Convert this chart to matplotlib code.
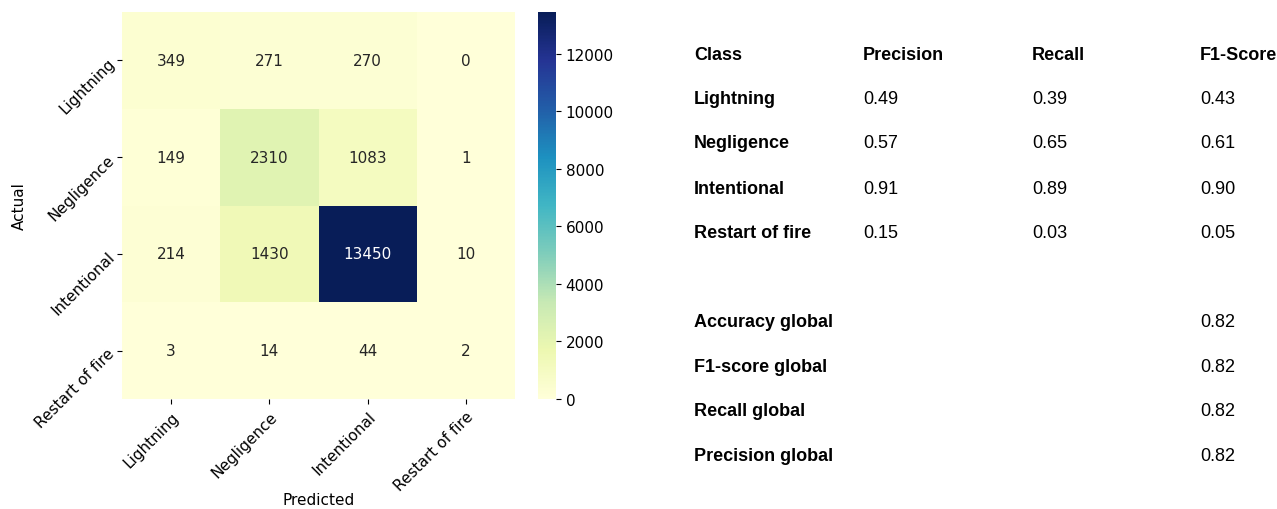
import matplotlib
matplotlib.use("Agg")
import matplotlib.pyplot as plt
import numpy as np
import seaborn as sns

classes = ["Lightning", "Negligence", "Intentional", "Restart of fire"]
conf = [
    [349, 271, 270, 0],
    [149, 2310, 1083, 1],
    [214, 1430, 13450, 10],
    [3, 14, 44, 2],
]
precision = ["0.49", "0.57", "0.91", "0.15"]
recall = ["0.39", "0.65", "0.89", "0.03"]
f1 = ["0.43", "0.61", "0.90", "0.05"]
headers = ["Class", "Precision", "Recall", "F1-Score"]
global_names = ["Accuracy global", "F1-score global", "Recall global", "Precision global"]
global_vals = ["0.82", "0.82", "0.82", "0.82"]

W, H = 1277, 510
fig = plt.figure(figsize=(W / 100, H / 100), dpi=100)

ax = fig.add_axes([122 / W, 1 - 400 / H, 393 / W, 387 / H])
cax = fig.add_axes([538 / W, 1 - 400 / H, 18 / W, 387 / H])

sns.heatmap(np.array(conf), annot=True, fmt="d", cmap="YlGnBu", ax=ax, cbar_ax=cax,
            xticklabels=classes, yticklabels=classes, annot_kws={"fontsize": 11})
ax.set_xlabel("Predicted", fontsize=11, labelpad=-1)
ax.set_ylabel("Actual", fontsize=11)
plt.setp(ax.get_xticklabels(), rotation=45, ha="right", rotation_mode="anchor", fontsize=11)
plt.setp(ax.get_yticklabels(), rotation=45, ha="right", va="center", rotation_mode="anchor", fontsize=11)
cax.tick_params(labelsize=11)
cax.set_yticks([0, 2000, 4000, 6000, 8000, 10000, 12000])

col_x = [694, 863, 1032, 1200]
row_y = [55, 100, 144, 189, 234]
g_y = [323, 368, 412, 457]
fam = "Liberation Sans"
fs = 13

for cx, h in zip(col_x, headers):
    fig.text(cx / W, 1 - row_y[0] / H, h, fontsize=fs, fontweight="bold", family=fam, va="center", ha="left")
for i, c in enumerate(classes):
    y = 1 - row_y[i + 1] / H
    fig.text(col_x[0] / W, y, c, fontsize=fs, fontweight="bold", family=fam, va="center")
    fig.text(col_x[1] / W, y, precision[i], fontsize=fs, family=fam, va="center")
    fig.text(col_x[2] / W, y, recall[i], fontsize=fs, family=fam, va="center")
    fig.text(col_x[3] / W, y, f1[i], fontsize=fs, family=fam, va="center")
for name, val, gy in zip(global_names, global_vals, g_y):
    y = 1 - gy / H
    fig.text(col_x[0] / W, y, name, fontsize=fs, fontweight="bold", family=fam, va="center")
    fig.text(col_x[3] / W, y, val, fontsize=fs, family=fam, va="center")

fig.savefig("out.png", dpi=100)
